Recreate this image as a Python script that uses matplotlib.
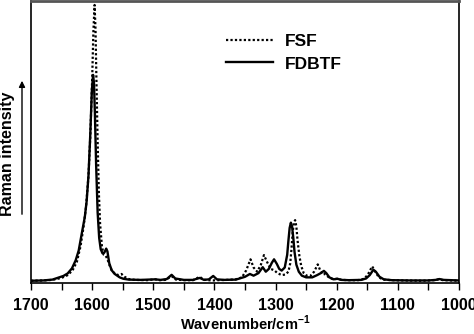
import matplotlib
matplotlib.use('Agg')
import matplotlib.pyplot as plt
from matplotlib.ticker import MultipleLocator

plt.rcParams['font.family'] = ['Liberation Sans', 'DejaVu Sans']
plt.rcParams['font.weight'] = 'bold'
plt.rcParams['mathtext.fontset'] = 'custom'
plt.rcParams['mathtext.rm'] = 'Liberation Sans:bold'
plt.rcParams['mathtext.bf'] = 'Liberation Sans:bold'

# FSF spectrum (wavenumber in cm-1, normalised intensity)
fsf_wn = [1700, 1680, 1665, 1650, 1640, 1632, 1625, 1619, 1614, 1610, 1606, 1603,
          1600, 1598, 1596, 1594.5, 1593, 1591, 1589, 1587, 1584, 1581, 1578, 1575,
          1572, 1568, 1563, 1557, 1552, 1547, 1540, 1530, 1510, 1497, 1490, 1480,
          1470, 1463, 1450, 1435, 1424, 1418, 1410, 1402, 1395, 1380, 1365, 1355,
          1348, 1341, 1336, 1330, 1324, 1319, 1314, 1308, 1302, 1297, 1290, 1284,
          1279, 1276, 1274, 1272, 1270, 1268, 1266, 1264, 1261, 1258, 1254, 1249,
          1243, 1237, 1231, 1227, 1223, 1219, 1214, 1206, 1199, 1192, 1180, 1165,
          1155, 1149, 1142, 1137, 1131, 1124, 1110, 1090, 1060, 1040, 1033, 1026, 1000]
fsf_int = [0.008, 0.009, 0.011, 0.018, 0.028, 0.045, 0.075, 0.13, 0.20, 0.27, 0.38, 0.52,
           0.72, 0.89, 0.986, 0.90, 0.72, 0.50, 0.32, 0.21, 0.13, 0.10, 0.097, 0.085,
           0.065, 0.045, 0.033, 0.028, 0.032, 0.022, 0.014, 0.011, 0.010, 0.013, 0.010, 0.011,
           0.024, 0.012, 0.010, 0.010, 0.022, 0.012, 0.010, 0.009, 0.010, 0.011, 0.013, 0.020,
           0.045, 0.084, 0.055, 0.040, 0.065, 0.099, 0.075, 0.050, 0.045, 0.035, 0.028, 0.030,
           0.040, 0.070, 0.120, 0.180, 0.215, 0.223, 0.200, 0.150, 0.095, 0.060, 0.035, 0.026,
           0.025, 0.040, 0.066, 0.045, 0.030, 0.032, 0.022, 0.013, 0.015, 0.011, 0.010, 0.010,
           0.015, 0.030, 0.059, 0.040, 0.020, 0.012, 0.010, 0.009, 0.008, 0.010, 0.013, 0.010, 0.008]

# FDBTF spectrum
fdbtf_wn = [1700, 1680, 1665, 1647, 1640, 1633, 1627, 1622, 1617, 1612, 1609, 1606,
            1603, 1600.5, 1598.5, 1597, 1595.5, 1593.5, 1591, 1588.5, 1586, 1583, 1580, 1577,
            1575, 1572, 1568, 1563, 1555, 1549, 1540, 1520, 1497, 1488, 1478, 1470,
            1464, 1450, 1435, 1424, 1417, 1409, 1402, 1396, 1385, 1365, 1350, 1342,
            1336, 1328, 1321, 1316, 1311, 1306, 1302.5, 1298, 1294, 1290, 1285, 1281,
            1279, 1277, 1275, 1273, 1271, 1269, 1266, 1262, 1257, 1250, 1240, 1232,
            1226, 1221, 1217, 1212, 1205, 1199, 1192, 1180, 1160, 1152, 1146, 1140,
            1136, 1130, 1123, 1110, 1080, 1050, 1038, 1032, 1025, 1000]
fdbtf_int = [0.008, 0.009, 0.012, 0.025, 0.034, 0.052, 0.080, 0.115, 0.175, 0.234, 0.29, 0.38,
             0.53, 0.68, 0.738, 0.71, 0.60, 0.42, 0.25, 0.16, 0.12, 0.105, 0.108, 0.122,
             0.112, 0.07, 0.045, 0.032, 0.020, 0.015, 0.012, 0.011, 0.013, 0.011, 0.014, 0.029,
             0.016, 0.011, 0.011, 0.018, 0.011, 0.013, 0.025, 0.013, 0.011, 0.012, 0.022, 0.032,
             0.026, 0.035, 0.056, 0.040, 0.050, 0.072, 0.084, 0.068, 0.050, 0.044, 0.055, 0.10,
             0.15, 0.195, 0.214, 0.200, 0.160, 0.110, 0.065, 0.040, 0.026, 0.020, 0.020, 0.028,
             0.035, 0.043, 0.035, 0.020, 0.013, 0.015, 0.011, 0.010, 0.011, 0.016, 0.028, 0.047,
             0.040, 0.022, 0.013, 0.010, 0.009, 0.009, 0.011, 0.014, 0.011, 0.009]

fig = plt.figure(figsize=(4.74, 3.34), dpi=100)
ax = fig.add_axes([31 / 474, 1 - 283 / 334, 428 / 474, 282 / 334])

ax.plot(fdbtf_wn, fdbtf_int, color='black', lw=1.7, label='FDBTF')
ax.plot(fsf_wn, fsf_int, color='black', lw=1.6, linestyle=(0, (1, 1)), label='FSF')

ax.set_xlim(1700, 1000)
ax.set_ylim(0, 1)
ax.xaxis.set_major_locator(MultipleLocator(100))
ax.xaxis.set_minor_locator(MultipleLocator(50))
ax.tick_params(axis='x', which='both', direction='out', length=5, width=1, pad=6,
               labelsize=11.5)
ax.set_yticks([])

for side in ['left', 'bottom', 'right']:
    ax.spines[side].set_linewidth(1.2)
ax.spines['top'].set_color('#555555')
ax.spines['top'].set_linewidth(2)

ax.set_xlabel('Wavenumber/cm$^{-1}$', fontsize=10.5, fontweight='bold', labelpad=0)

# y label with an upward arrow beside it
fig.text(8 / 474, 1 - 153.5 / 334, 'Raman intensity', rotation=90, ha='center', va='center',
         fontsize=11.5, fontweight='bold')
fig.add_artist(matplotlib.patches.FancyArrowPatch(
    (22 / 474, 1 - 217 / 334), (22 / 474, 1 - 78 / 334), transform=fig.transFigure,
    arrowstyle='-|>', mutation_scale=9, lw=1, color='black'))

handles, labels = ax.get_legend_handles_labels()
ax.legend(handles[::-1], labels[::-1], loc='upper left', bbox_to_anchor=(0.436, 0.914),
          frameon=False, handlelength=2.7, handletextpad=0.65, labelspacing=0.42,
          borderpad=0, prop={'weight': 'bold', 'size': 12.5})

fig.savefig('out.png', dpi=100)
